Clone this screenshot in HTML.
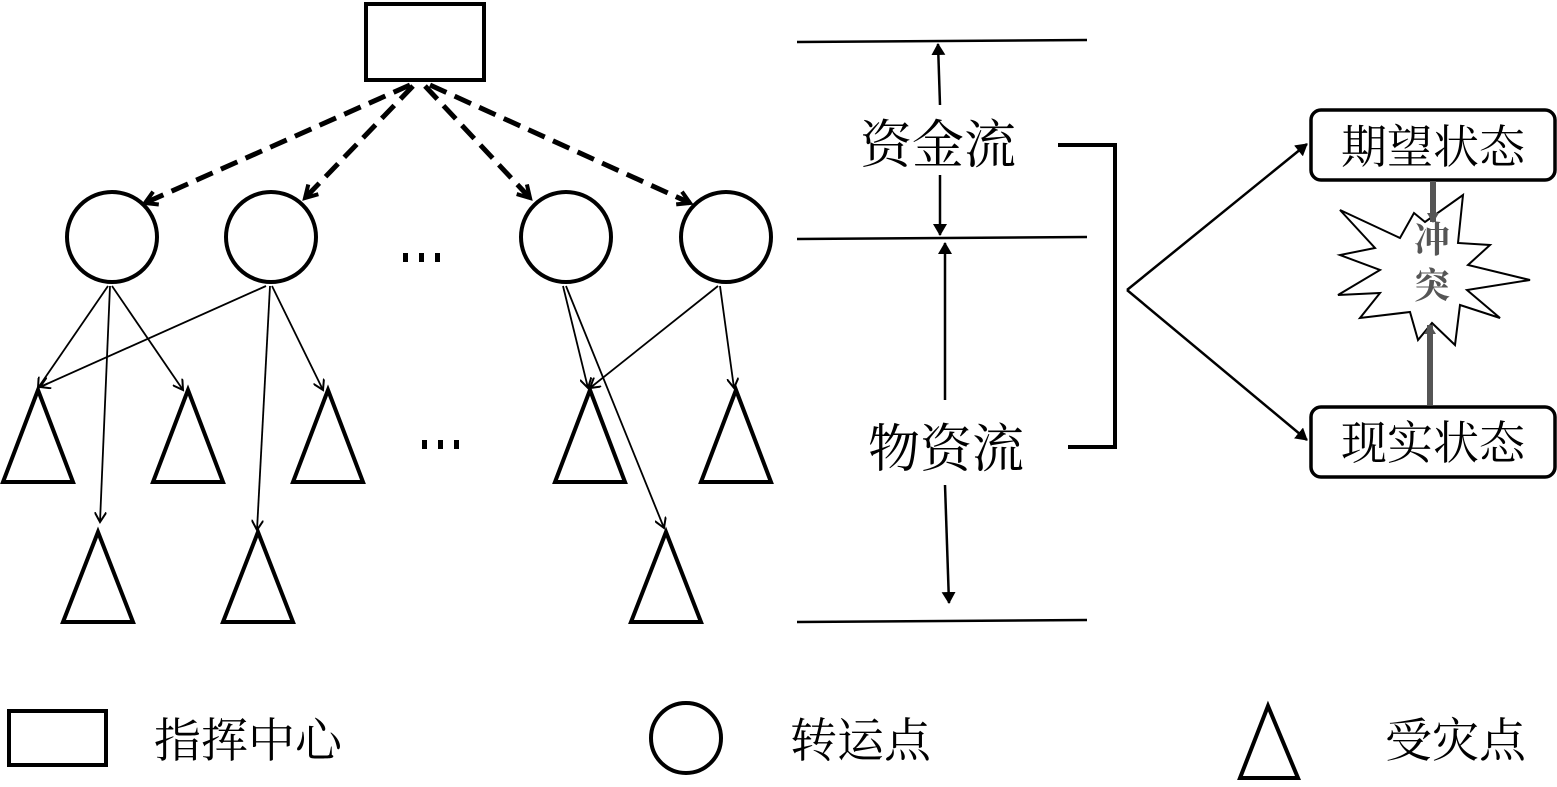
<!DOCTYPE html>
<html><head><meta charset="utf-8"><style>
body{margin:0;background:#fff;}
text{font-family:"Noto Serif CJK SC","Liberation Serif","Noto Sans CJK SC",serif;}
</style></head><body>
<svg width="1557" height="782" viewBox="0 0 1557 782" xmlns="http://www.w3.org/2000/svg">
<defs>
<marker id="a" markerWidth="12" markerHeight="12" refX="10" refY="6" orient="auto" markerUnits="userSpaceOnUse"><path d="M0,0 L10,6 L0,12" fill="none" stroke="#000" stroke-width="2"/></marker>
<marker id="b" markerWidth="18" markerHeight="18" refX="14" refY="9" orient="auto" markerUnits="userSpaceOnUse"><path d="M2,2 L14,9 L2,16" fill="none" stroke="#000" stroke-width="4"/></marker>
<marker id="c" markerWidth="14" markerHeight="14" refX="11" refY="7" orient="auto" markerUnits="userSpaceOnUse"><path d="M0,0 L12,7 L0,14 Z" fill="#000"/></marker>
<marker id="g" markerWidth="12" markerHeight="12" refX="9" refY="6" orient="auto" markerUnits="userSpaceOnUse"><path d="M0,0 L10,6 L0,12 Z" fill="#555"/></marker>
</defs>
<g fill="none" stroke="#000" stroke-width="4">
<rect x="366" y="4" width="118" height="76"/>
<circle cx="112" cy="237" r="45"/><circle cx="271" cy="237" r="45"/><circle cx="566" cy="237" r="45"/><circle cx="726" cy="237" r="45"/>
<path d="M38,390 L3,482 L73,482 Z"/><path d="M188,390 L153,482 L223,482 Z"/><path d="M328,390 L293,482 L363,482 Z"/><path d="M590,390 L555,482 L625,482 Z"/><path d="M736,390 L701,482 L771,482 Z"/>
<path d="M98,532 L63,622 L133,622 Z"/><path d="M258,532 L223,622 L293,622 Z"/><path d="M666,532 L631,622 L701,622 Z"/>
</g>
<g stroke="#000" stroke-width="5" stroke-dasharray="18,9" fill="none">
<line x1="410" y1="85" x2="145" y2="203" marker-end="url(#b)"/>
<line x1="413" y1="86" x2="305" y2="198" marker-end="url(#b)"/>
<line x1="425" y1="86" x2="530" y2="198" marker-end="url(#b)"/>
<line x1="430" y1="85" x2="690" y2="203" marker-end="url(#b)"/>
</g>
<g stroke="#000" stroke-width="1.8" fill="none" marker-end="url(#a)">
<line x1="108" y1="286" x2="38" y2="388"/>
<line x1="110" y1="286" x2="100" y2="522"/>
<line x1="112" y1="286" x2="183" y2="390"/>
<line x1="266" y1="286" x2="40" y2="387"/>
<line x1="270" y1="286" x2="257" y2="530"/>
<line x1="272" y1="286" x2="323" y2="390"/>
<line x1="563" y1="286" x2="588" y2="388"/>
<line x1="566" y1="286" x2="664" y2="528"/>
<line x1="718" y1="286" x2="590" y2="388"/>
<line x1="720" y1="286" x2="734" y2="388"/>
</g>
<g fill="#000">
<rect x="403" y="253" width="5" height="9"/><rect x="419" y="253" width="5" height="9"/><rect x="435" y="253" width="5" height="9"/>
<rect x="422" y="440" width="5" height="9"/><rect x="438" y="440" width="5" height="9"/><rect x="454" y="440" width="5" height="9"/>
</g>
<g stroke="#000" stroke-width="2.5">
<line x1="797" y1="42" x2="1087" y2="40"/>
<line x1="797" y1="239" x2="1087" y2="237"/>
<line x1="797" y1="622" x2="1087" y2="620"/>
</g>
<g stroke="#000" stroke-width="2.5" marker-end="url(#c)">
<line x1="940" y1="105" x2="938" y2="44"/>
<line x1="940" y1="175" x2="940" y2="235"/>
<line x1="945" y1="400" x2="945" y2="243"/>
<line x1="945" y1="485" x2="949" y2="603"/>
</g>
<text x="860" y="163" font-size="52">资金流</text>
<text x="868" y="467" font-size="52">物资流</text>
<path d="M1058,145 L1115,145 L1115,447 L1068,447" fill="none" stroke="#000" stroke-width="4"/>
<g stroke="#000" stroke-width="2.5" marker-end="url(#c)">
<line x1="1127" y1="290" x2="1307" y2="144"/>
<line x1="1127" y1="290" x2="1307" y2="440"/>
</g>
<rect x="1311" y="110" width="244" height="70" rx="10" fill="#fff" stroke="#000" stroke-width="3.5"/>
<rect x="1311" y="407" width="244" height="70" rx="10" fill="#fff" stroke="#000" stroke-width="3.5"/>
<text x="1433" y="163" font-size="46" text-anchor="middle">期望状态</text>
<text x="1433" y="459" font-size="46" text-anchor="middle">现实状态</text>
<path d="M1340,210 L1400,238 L1414,213 L1425,222 L1463,195 L1458,243 L1490,245 L1468,265 L1530,280 L1467,290 L1500,318 L1460,305 L1455,345 L1432,323 L1418,340 L1410,312 L1360,318 L1380,293 L1338,295 L1380,270 L1340,255 L1375,248 Z" fill="#fff" stroke="#000" stroke-width="2"/>
<g stroke="#555" stroke-width="6">
<line x1="1433" y1="181" x2="1433" y2="222" marker-end="url(#g)"/>
<line x1="1430" y1="405" x2="1430" y2="325" marker-end="url(#g)"/>
</g>
<text x="1432" y="252" font-size="36" font-weight="bold" fill="#555" text-anchor="middle">冲</text>
<text x="1432" y="298" font-size="36" font-weight="bold" fill="#555" text-anchor="middle">突</text>
<rect x="9" y="711" width="97" height="54" fill="none" stroke="#000" stroke-width="4"/>
<text x="154" y="757" font-size="47">指挥中心</text>
<circle cx="686" cy="738" r="35" fill="none" stroke="#000" stroke-width="4"/>
<text x="790" y="757" font-size="47">转运点</text>
<path d="M1268,706 L1240,778 L1298,778 Z" fill="none" stroke="#000" stroke-width="4"/>
<text x="1385" y="757" font-size="47">受灾点</text>
</svg>
</body></html>
